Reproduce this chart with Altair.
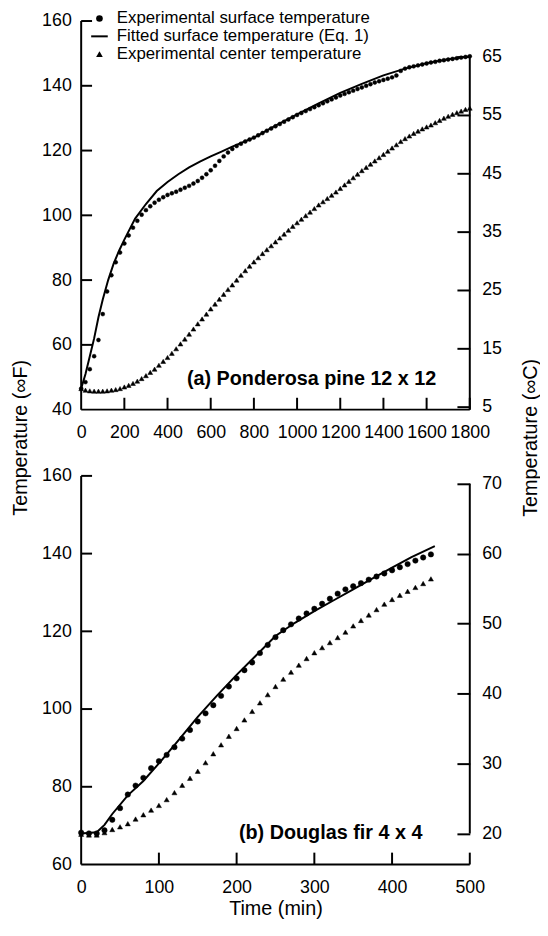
import altair as alt
import pandas as pd

FONT = "Liberation Sans"
SERIES = ["Experimental surface temperature",
          "Fitted surface temperature (Eq. 1)",
          "Experimental center temperature"]

# ---------------- Panel (a): Ponderosa pine 12 x 12 ----------------
a_time = list(range(0, 1801, 20))
a_surface = [46.5, 48.5, 52.5, 56.5, 61.5, 69.5, 76.5, 81.5, 85.5, 88.5,
             91.3, 93.8, 96.2, 98.3, 100.2, 101.6, 102.8, 103.9, 104.8, 105.6,
             106.3, 106.8, 107.3, 107.9, 108.5, 109.1, 109.8, 110.6, 111.6, 112.7,
             113.9, 115.3, 116.8, 118.2, 119.4, 120.5, 121.4, 122.1, 122.8, 123.4,
             124.0, 124.7, 125.4, 126.1, 126.8, 127.5, 128.2, 128.9, 129.6, 130.3,
             131.0, 131.6, 132.2, 132.8, 133.4, 134.0, 134.6, 135.2, 135.8, 136.4,
             137.0, 137.5, 138.0, 138.5, 139.0, 139.5, 140.0, 140.5, 141.0, 141.4,
             141.8, 142.2, 142.6, 143.2, 144.6, 145.3, 145.7, 146.0, 146.3, 146.6,
             146.9, 147.2, 147.4, 147.7, 147.9, 148.1, 148.3, 148.5, 148.7, 148.9,
             149.1]
a_center = [46.5, 46.0, 45.8, 45.7, 45.7, 45.7, 45.8, 46.0, 46.2, 46.5,
            47.0, 47.5, 48.1, 48.8, 49.6, 50.5, 51.5, 52.5, 53.7, 54.9,
            56.1, 57.4, 58.8, 60.3, 61.8, 63.3, 64.9, 66.5, 68.0, 69.5,
            71.1, 72.6, 74.1, 75.6, 77.1, 78.5, 80.0, 81.5, 82.9, 84.3,
            85.6, 86.9, 88.2, 89.4, 90.6, 91.8, 93.0, 94.2, 95.4, 96.6,
            97.7, 98.8, 99.9, 101.0, 102.1, 103.2, 104.2, 105.2, 106.2, 107.2,
            108.3, 109.4, 110.5, 111.6, 112.7, 113.8, 114.8, 115.8, 116.8, 117.8,
            118.8, 119.8, 120.8, 121.8, 122.8, 123.7, 124.5, 125.3, 126.0, 126.7,
            127.3, 127.9, 128.6, 129.3, 130.0, 130.6, 131.2, 131.7, 132.2, 132.7,
            133.1]
a_fit_time = [0, 20, 40, 60, 80, 100, 125, 150, 175, 200, 250, 300, 350, 400,
              450, 500, 550, 600, 650, 700, 750, 800, 900, 1000, 1100, 1200,
              1300, 1400, 1500, 1600, 1700, 1800]
a_fit = [46.5, 51.0, 56.5, 62.0, 68.5, 74.0, 80.0, 85.0, 89.0, 92.5, 99.0,
         103.5, 107.5, 110.3, 112.7, 114.8, 116.6, 118.2, 119.7, 121.2, 122.6,
         124.0, 127.7, 131.2, 134.6, 137.8, 140.6, 143.2, 145.3, 147.0, 148.2,
         149.1]

# ---------------- Panel (b): Douglas fir 4 x 4 ----------------
b_time = list(range(0, 451, 10))
b_surface = [68.2, 68.0, 68.0, 68.8, 71.5, 74.5, 78.0, 80.3, 82.3, 84.8,
             86.6, 88.2, 90.2, 92.4, 94.6, 96.8, 98.9, 101.0, 103.4, 105.8,
             107.9, 110.0, 112.0, 114.4, 116.5, 118.5, 120.3, 121.8, 123.3, 124.6,
             125.8, 127.1, 128.4, 129.7, 130.8, 131.6, 132.4, 133.3, 134.1, 134.9,
             135.7, 136.5, 137.3, 138.2, 139.0, 139.8]
b_center = [67.8, 67.6, 67.6, 68.2, 69.0, 69.7, 70.5, 71.7, 72.8, 74.0,
            75.2, 76.7, 78.5, 80.4, 82.2, 84.0, 86.2, 88.5, 90.8, 93.0,
            95.0, 97.2, 99.4, 101.6, 103.7, 105.8, 107.7, 109.5, 111.3, 113.0,
            114.5, 115.8, 117.1, 118.4, 119.8, 121.4, 122.8, 124.2, 125.6, 127.0,
            128.2, 129.3, 130.3, 131.3, 132.3, 133.5]
b_fit_time = [0, 20, 30, 40, 60, 80, 100, 120, 150, 175, 200, 225, 250, 275,
              300, 325, 350, 375, 400, 425, 455]
b_fit = [68.0, 68.3, 70.2, 73.0, 77.8, 81.5, 86.0, 90.7, 98.0, 103.5, 108.8,
         113.8, 118.8, 122.2, 125.2, 128.0, 130.8, 133.6, 136.4, 139.1, 141.9]

# axis ticks
a_xticks = list(range(0, 1801, 200))
a_yticks = list(range(40, 161, 20))
a_cticks = list(range(5, 66, 10))
b_xticks = list(range(0, 501, 100))
b_yticks = list(range(60, 161, 20))
b_cticks = list(range(20, 71, 10))

W = 393
H = 393
STROKE_PATH = "M-2.5,-0.3H2.5V0.3H-2.5Z"


def series_frame(time, temp, name):
    return pd.DataFrame({"t": time, "T": temp, "series": [name] * len(time)})


def f_to_c(f):
    return (f - 32.0) / 1.8


def panel(surf_df, cent_df, fit_df, xmax, xticks, ylo, yhi, yticks, cticks,
          clo, chi, label, label_t, label_T, top, sizes, xlabel_pad):
    xscale = alt.Scale(domain=[0, xmax], nice=False, zero=False)
    yscale = alt.Scale(domain=[ylo, yhi], nice=False, zero=False)
    cscale = alt.Scale(domain=[f_to_c(ylo), f_to_c(yhi)], nice=False, zero=False)

    xaxis_kw = dict(values=xticks, ticks=False, tickSize=0, domain=False,
                    grid=False, format="d", labelPadding=xlabel_pad,
                    labelFlush=False, labelOverlap=False, labelFontSize=18,
                    labelColor="black", labelFont=FONT)
    if top:
        xaxis = alt.Axis(title=None, **xaxis_kw)
    else:
        xaxis = alt.Axis(title="Time (min)", titleFontSize=20,
                         titleFontWeight="normal", titleFont=FONT,
                         titleColor="black", titlePadding=3, **xaxis_kw)

    yaxis_kw = dict(values=yticks, ticks=False, tickSize=0, domain=False,
                    grid=False, format="d", labelPadding=10, labelFlush=False,
                    labelOverlap=False, labelFontSize=18, labelColor="black",
                    labelFont=FONT)
    raxis_kw = dict(orient="right", values=cticks, offset=-13, tickSize=13,
                    tickWidth=2, tickColor="black", domain=False, grid=False,
                    format="d", labelPadding=12, labelFlush=False,
                    labelOverlap=False, labelFontSize=18, labelColor="black",
                    labelFont=FONT)
    if top:
        yaxis = alt.Axis(title="Temperature (∞F)", titleX=-61, titleY=421,
                         titleAngle=270, titleAlign="center",
                         titleBaseline="middle", titleFontSize=20,
                         titleFontWeight="normal", titleFont=FONT,
                         titleColor="black", **yaxis_kw)
        raxis = alt.Axis(title="Temperature (∞C)", titleX=74, titleY=421,
                         titleAngle=270, titleAlign="center",
                         titleBaseline="middle", titleFontSize=20,
                         titleFontWeight="normal", titleFont=FONT,
                         titleColor="black", **raxis_kw)
        legend = alt.Legend(title=None, orient="none", legendX=10, legendY=-11,
                            labelFontSize=17, labelFont=FONT,
                            labelColor="black", symbolSize=45,
                            symbolFillColor="black", symbolStrokeColor="black",
                            rowPadding=0, labelOffset=9, padding=0,
                            labelLimit=0)
    else:
        yaxis = alt.Axis(title=None, **yaxis_kw)
        raxis = alt.Axis(title=None, **raxis_kw)
        legend = None

    shape_scale = alt.Scale(domain=SERIES,
                            range=["circle", STROKE_PATH, "triangle-up"])

    def pts(df, size):
        return alt.Chart(df).mark_point(
            filled=True, fill="black", stroke="black", strokeWidth=0.5,
            opacity=1, size=size
        ).encode(
            x=alt.X("t:Q", scale=xscale, axis=xaxis),
            y=alt.Y("T:Q", scale=yscale, axis=yaxis),
            shape=alt.Shape("series:N", scale=shape_scale, legend=legend),
        )

    line = alt.Chart(fit_df).mark_line(color="black", strokeWidth=2).encode(
        x=alt.X("t:Q", axis=xaxis), y=alt.Y("T:Q", axis=yaxis)
    )

    # axis lines (first rows) and inward tick marks, in data units through the scales
    ytick_len = 11.0 / W * xmax
    xtick_len = 12.0 / H * (yhi - ylo)
    left_v = [v for v in yticks if v != ylo]
    bottom_v = [v for v in xticks if v != 0]
    hsegs = pd.DataFrame({
        "T": [ylo] + left_v,
        "t": [0] * (1 + len(left_v)),
        "t2": [xmax] + [ytick_len] * len(left_v),
    })
    vsegs = pd.DataFrame({
        "t": [0] + bottom_v,
        "T": [ylo] * (1 + len(bottom_v)),
        "T2": [yhi] + [ylo + xtick_len] * len(bottom_v),
    })
    hrules = alt.Chart(hsegs).mark_rule(color="black", strokeWidth=2).encode(
        x=alt.X("t:Q", axis=xaxis),
        x2="t2:Q",
        y=alt.Y("T:Q", axis=yaxis),
    )
    vrules = alt.Chart(vsegs).mark_rule(color="black", strokeWidth=2).encode(
        x=alt.X("t:Q", axis=xaxis),
        y=alt.Y("T:Q", axis=yaxis),
        y2="T2:Q",
    )
    lbl = alt.Chart(pd.DataFrame({"t": [label_t], "T": [label_T]})).mark_text(
        text=label, align="right", baseline="middle", fontSize=20,
        fontWeight="bold", font=FONT, color="black"
    ).encode(
        x=alt.X("t:Q", axis=xaxis),
        y=alt.Y("T:Q", axis=yaxis),
    )
    left_group = alt.layer(pts(surf_df, sizes[0]), pts(cent_df, sizes[1]), line,
                           hrules, vrules, lbl)

    right = alt.Chart(pd.DataFrame({"t": [xmax], "lo": [clo], "hi": [chi]})).mark_rule(
        color="black", strokeWidth=2
    ).encode(
        x=alt.X("t:Q", axis=xaxis),
        y=alt.Y("lo:Q", scale=cscale, axis=raxis),
        y2="hi:Q",
    )
    return alt.layer(left_group, right).resolve_scale(y="independent").properties(
        width=W, height=H
    )


top = panel(series_frame(a_time, a_surface, SERIES[0]),
            series_frame(a_time, a_center, SERIES[2]),
            pd.DataFrame({"t": a_fit_time, "T": a_fit}),
            1800, a_xticks, 40, 160, a_yticks, a_cticks, f_to_c(40), 65,
            "(a) Ponderosa pine 12 x 12", 1645, 49.4, True, (16, 24), 14)
bottom = panel(series_frame(b_time, b_surface, SERIES[0]),
               series_frame(b_time, b_center, SERIES[2]),
               pd.DataFrame({"t": b_fit_time, "T": b_fit}),
               500, b_xticks, 60, 160, b_yticks, b_cticks, 20, 70,
               "(b) Douglas fir 4 x 4", 439, 68.2, False, (30, 26), 14)

chart = alt.vconcat(top, bottom, spacing=67, bounds="flush").properties(
    padding={"top": -3, "left": 3, "right": 0, "bottom": 0}
).configure(font=FONT).configure_view(strokeWidth=0)

chart.save("out.html", embed_options={"renderer": "svg", "actions": False})
